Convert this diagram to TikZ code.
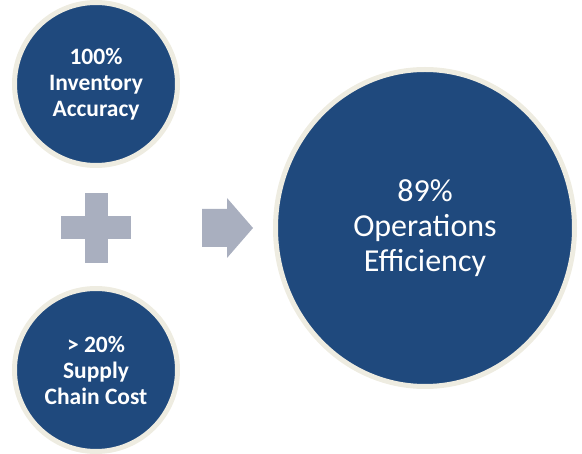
\documentclass[tikz,border=0pt]{standalone}
\usepackage{fontspec}
\setmainfont{Carlito}
\usetikzlibrary{shapes.geometric,calc}
\definecolor{navy}{HTML}{1F497D}
\definecolor{rim}{HTML}{EEECE1}
\definecolor{slate}{HTML}{A9AFBF}
\tikzset{
	bubble/.style={circle,fill=navy,draw=rim,line width=5pt,text=white,align=center,
		minimum size=163pt,inner sep=0pt,font=\fontsize{23.5}{26}\selectfont\bfseries},
	bigbubble/.style={ellipse,fill=navy,draw=rim,line width=5pt,text=white,align=center,
		minimum width=299pt,minimum height=317pt,inner sep=0pt,font=\fontsize{32}{35}\selectfont}
}
\begin{document}
\begin{tikzpicture}[x=1pt,y=-1pt]
			\useasboundingbox (0,0) rectangle (582,454);
			% inputs
			\node[bubble] (inv) at (96,84) {100\%\\Inventory\\Accuracy};
			\node[bubble] (cost) at (96,370) {> 20\%\\Supply\\Chain Cost};
			% result
			\node[bigbubble] (eff) at (425,228) {89\%\\Operations\\Efficiency};
			% plus sign
			\def\arm{35} \def\half{11.5}
			\coordinate (plus) at (96,228);
			\fill[slate] ($(plus)+(-\half,-\arm)$) rectangle ($(plus)+(\half,\arm)$);
			\fill[slate] ($(plus)+(-\arm,-\half)$) rectangle ($(plus)+(\arm,\half)$);
			% block arrow
			\coordinate (tip) at (253,228);
			\fill[slate] (202,209) -- (227,209) -- (227,198) -- (tip) -- (227,258)
				-- (227,247) -- (202,247) -- cycle;
		\end{tikzpicture}
\end{document}
